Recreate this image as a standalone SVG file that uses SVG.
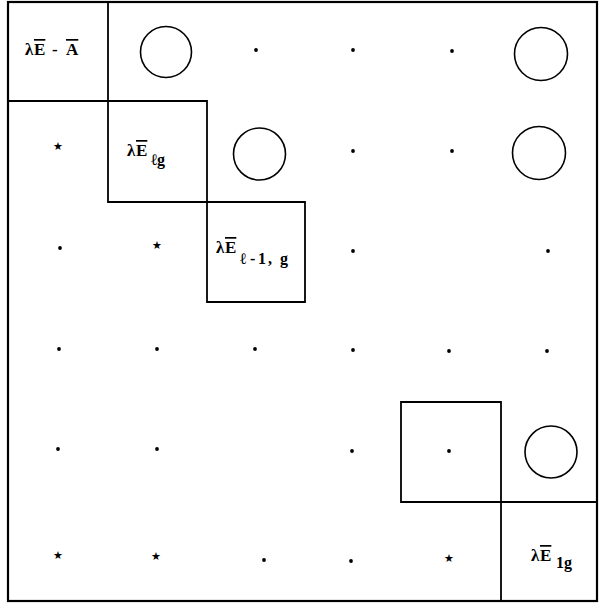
<svg xmlns="http://www.w3.org/2000/svg" width="599" height="603" viewBox="0 0 599 603">
<defs>
<style>
.ln{stroke:#000;stroke-width:1.8;fill:none;stroke-linecap:square}
.frame{stroke:#000;stroke-width:2.2;fill:none}
.circ{stroke:#000;stroke-width:1.6;fill:none}
.dot{fill:#000}
.lab{font-family:"Liberation Serif","DejaVu Serif",serif;font-weight:bold;font-size:17px;fill:#000}
.sub{font-size:16px}
.star{font-family:"DejaVu Sans",sans-serif;font-size:11px;fill:#000;text-anchor:middle}
.ov{text-decoration:overline}
</style>
</defs>
<rect width="599" height="603" fill="#fff"/>
<g id="frame"><rect class="frame" x="8" y="2" width="589" height="599"/></g>
<g id="connectors">
<path class="ln" d="M8 101 H207 M108 2 V202 M108 202 H305 M207 101 V302 M305 202 V302 M207 302 H305"/>
<path class="ln" d="M401 402 H501 M401 402 V502 M401 502 H597 M501 402 V601"/>
</g>
<g id="block-A">
<text class="lab"><tspan x="25" y="55">λ</tspan><tspan class="ov" x="34" y="55">E</tspan><tspan x="52" y="55">-</tspan><tspan class="ov" x="66" y="55">A</tspan></text>
</g>
<g id="block-Elg">
<text class="lab"><tspan x="127" y="156">λ</tspan><tspan class="ov" x="136" y="156">E</tspan><tspan class="sub" x="151" y="165">ℓg</tspan></text>
</g>
<g id="block-El1g">
<text class="lab"><tspan x="216" y="253">λ</tspan><tspan class="ov" x="225" y="253">E</tspan><tspan class="sub" x="240" y="264">ℓ</tspan><tspan class="sub" x="250" y="264">-</tspan><tspan class="sub" x="258" y="264">1</tspan><tspan class="sub" x="268" y="264">,</tspan><tspan class="sub" x="280" y="264">g</tspan></text>
</g>
<g id="block-box4"></g>
<g id="block-E1g">
<text class="lab"><tspan x="531" y="561">λ</tspan><tspan class="ov" x="540" y="561">E</tspan><tspan class="sub" x="556" y="568">1g</tspan></text>
</g>
<g id="circles">
<circle class="circ" cx="166" cy="52" r="25.5"/>
<circle class="circ" cx="541" cy="54" r="26.5"/>
<circle class="circ" cx="259.5" cy="154" r="26"/>
<circle class="circ" cx="539" cy="153" r="26.5"/>
<circle class="circ" cx="551" cy="452" r="26"/>
</g>
<g id="dots">
<circle class="dot" cx="256" cy="50" r="1.9"/>
<circle class="dot" cx="353" cy="50" r="1.9"/>
<circle class="dot" cx="452" cy="51" r="1.9"/>
<circle class="dot" cx="353" cy="151" r="1.9"/>
<circle class="dot" cx="452" cy="151" r="1.9"/>
<circle class="dot" cx="60" cy="248" r="1.9"/>
<circle class="dot" cx="353" cy="251" r="1.9"/>
<circle class="dot" cx="548" cy="251" r="1.9"/>
<circle class="dot" cx="59" cy="349" r="1.9"/>
<circle class="dot" cx="157" cy="349" r="1.9"/>
<circle class="dot" cx="255" cy="349" r="1.9"/>
<circle class="dot" cx="353" cy="350" r="1.9"/>
<circle class="dot" cx="449" cy="351" r="1.9"/>
<circle class="dot" cx="547" cy="351" r="1.9"/>
<circle class="dot" cx="58" cy="449" r="1.9"/>
<circle class="dot" cx="157" cy="449" r="1.9"/>
<circle class="dot" cx="352" cy="451" r="1.9"/>
<circle class="dot" cx="449" cy="451" r="1.9"/>
<circle class="dot" cx="264" cy="560" r="1.9"/>
<circle class="dot" cx="351" cy="561" r="1.9"/>
</g>
<g id="stars">
<text class="star" x="58" y="150">★</text>
<text class="star" x="157" y="249">★</text>
<text class="star" x="58" y="559">★</text>
<text class="star" x="156" y="560">★</text>
<text class="star" x="449" y="562">★</text>
</g>
</svg>
